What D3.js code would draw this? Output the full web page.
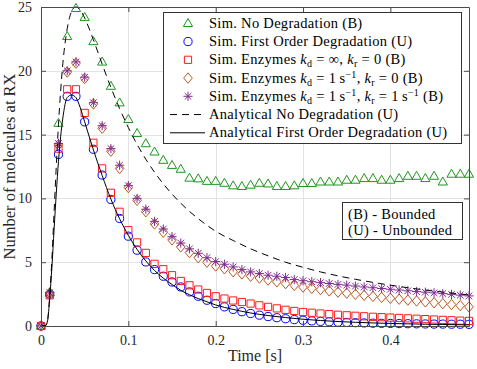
<!DOCTYPE html>
<html>
<head>
<meta charset="utf-8">
<script src="https://cdn.jsdelivr.net/npm/d3@7"></script>
<style>
  body { margin: 0; background: #fff; }
  svg { display: block; }
  svg text { font-family: "Liberation Serif", "Times New Roman", "DejaVu Serif", serif; }
</style>
</head>
<body>
<div id="chart"></div>
<script>
// sampled simulation times [s]
var simTime = [0, 0.01, 0.02, 0.03, 0.04, 0.05, 0.06, 0.07, 0.08, 0.09,
  0.10, 0.11, 0.12, 0.13, 0.14, 0.15, 0.16, 0.17, 0.18, 0.19,
  0.20, 0.21, 0.22, 0.23, 0.24, 0.25, 0.26, 0.27, 0.28, 0.29,
  0.30, 0.31, 0.32, 0.33, 0.34, 0.35, 0.36, 0.37, 0.38, 0.39,
  0.40, 0.41, 0.42, 0.43, 0.44, 0.45, 0.46, 0.47, 0.48, 0.49];

var simNoDeg = [0, 2.6, 15.9, 22.7, 24.9, 24.2, 22.3, 20.7, 18.8, 17.5,
  16.2, 15.1, 14.3, 13.65, 13.0, 12.6, 12.3, 11.6, 11.55, 11.35,
  11.35, 11.2, 11.0, 10.95, 11.05, 11.2, 11.15, 10.95, 10.95, 11.0,
  11.18, 11.18, 11.3, 11.3, 11.3, 11.44, 11.44, 11.57, 11.57, 11.44,
  11.44, 11.57, 11.75, 11.75, 11.57, 11.75, 11.3, 11.91, 11.91, 11.91];

var simFirstOrder = [0, 2.5, 13.45, 18.0, 18.0, 16.0, 13.85, 11.83, 9.92, 8.43,
  7.04, 5.94, 5.02, 4.42, 3.9, 3.45, 3.06, 2.67, 2.33, 2.02,
  1.76, 1.5, 1.3, 1.12, 0.98, 0.85, 0.74, 0.65, 0.57, 0.5,
  0.45, 0.4, 0.36, 0.33, 0.3, 0.28, 0.26, 0.24, 0.22, 0.21,
  0.2, 0.19, 0.18, 0.17, 0.16, 0.15, 0.15, 0.14, 0.14, 0.13];

var simEnzInf = [0, 2.4, 13.9, 18.55, 18.55, 16.7, 14.36, 12.35, 10.44, 8.95,
  7.51, 6.55, 5.73, 4.87, 4.45, 3.98, 3.53, 3.19, 2.86, 2.59,
  2.33, 2.15, 2.0, 1.88, 1.76, 1.62, 1.5, 1.38, 1.27, 1.18,
  1.1, 1.04, 0.98, 0.93, 0.88, 0.84, 0.8, 0.76, 0.72, 0.69,
  0.66, 0.63, 0.6, 0.57, 0.54, 0.51, 0.48, 0.45, 0.42, 0.4];

var simEnzKd1 = [0, 2.6, 14.2, 19.9, 20.6, 19.4, 17.4, 15.5, 13.7, 12.35,
  10.85, 9.85, 8.95, 8.0, 7.35, 6.75, 6.2, 5.75, 5.35, 5.0,
  4.7, 4.48, 4.25, 4.08, 3.9, 3.76, 3.6, 3.46, 3.32, 3.18,
  3.05, 2.95, 2.85, 2.75, 2.65, 2.57, 2.48, 2.4, 2.32, 2.24,
  2.17, 2.1, 2.03, 1.96, 1.89, 1.82, 1.75, 1.68, 1.6, 1.5];

var simEnzKd1Kr1 = [0, 2.6, 14.3, 20.0, 20.7, 19.5, 17.5, 15.7, 13.9, 12.6,
  11.0, 10.0, 9.15, 8.2, 7.6, 7.0, 6.5, 6.05, 5.7, 5.35,
  5.05, 4.84, 4.63, 4.42, 4.24, 4.11, 3.98, 3.9, 3.8, 3.64,
  3.55, 3.47, 3.4, 3.33, 3.26, 3.2, 3.13, 3.06, 3.0, 2.94,
  2.88, 2.82, 2.76, 2.7, 2.65, 2.6, 2.54, 2.48, 2.42, 2.36];

// analytical curves
var anaTime = [0, 0.005, 0.0075, 0.01, 0.0125, 0.015, 0.0175, 0.02,
  0.025, 0.03, 0.035, 0.04, 0.045, 0.05,
  0.06, 0.07, 0.08, 0.09, 0.10, 0.11, 0.12, 0.13, 0.14, 0.15, 0.16, 0.17, 0.18, 0.19, 0.20,
  0.22, 0.24, 0.26, 0.28, 0.30, 0.32, 0.34, 0.36, 0.38, 0.40, 0.42, 0.44, 0.46, 0.49];

var anaNoDeg = [0, 0.02, 0.46, 2.4, 5.28, 8.93, 12.55, 15.77,
  20.56, 23.3, 24.64, 25.0, 24.75, 24.14,
  22.43, 20.53, 18.7, 17.04, 15.55, 14.23, 13.07, 12.05, 11.14, 10.34, 9.62, 8.98, 8.41, 7.89, 7.42,
  6.7, 6.05, 5.5, 5.0, 4.6, 4.24, 3.93, 3.66, 3.42, 3.2, 3.0, 2.82, 2.66, 2.43];

var anaFirstOrder = [0, 0.02, 0.4, 2.2, 4.6, 7.6, 10.4, 12.9,
  16.3, 17.9, 18.1, 17.9, 17.1, 16.0,
  13.8, 11.8, 9.95, 8.4, 7.1, 6.0, 5.1, 4.35, 3.75, 3.25, 2.8, 2.45, 2.15, 1.9, 1.65,
  1.3, 1.02, 0.82, 0.66, 0.53, 0.43, 0.35, 0.29, 0.24, 0.2, 0.17, 0.14, 0.12, 0.09];

var xTicks = [0, 0.1, 0.2, 0.3, 0.4];
var yTicks = [0, 5, 10, 15, 20, 25];

// legend entries as text runs (i = italic, sub / sup = sub- and superscript)
var legendLabels = [
  [{t: "Sim. No Degradation (B)"}],
  [{t: "Sim. First Order Degradation (U)"}],
  [{t: "Sim. Enzymes "}, {t: "k", i: 1}, {t: "d", sub: 1}, {t: " = \u221E, "}, {t: "k", i: 1}, {t: "r", sub: 1}, {t: " = 0 (B)"}],
  [{t: "Sim. Enzymes "}, {t: "k", i: 1}, {t: "d", sub: 1}, {t: " = 1\u2009s"}, {t: "\u22121", sup: 1}, {t: ", "}, {t: "k", i: 1}, {t: "r", sub: 1}, {t: " = 0 (B)"}],
  [{t: "Sim. Enzymes "}, {t: "k", i: 1}, {t: "d", sub: 1}, {t: " = 1\u2009s"}, {t: "\u22121", sup: 1}, {t: ", "}, {t: "k", i: 1}, {t: "r", sub: 1}, {t: " = 1\u2009s"}, {t: "\u22121", sup: 1}, {t: " (B)"}],
  [{t: "Analytical No Degradation (U)"}],
  [{t: "Analytical First Order Degradation (U)"}]
];
var noteLabels = ["(B) - Bounded", "(U) - Unbounded"];

var ctx = {
  w: 477, h: 369,
  left: 41, right: 469, top: 7, bottom: 326,
  font: "'Liberation Serif', 'Times New Roman', 'DejaVu Serif', serif"
};

// marker outlines
var markers = {
  tri: "M0,-4.8L4.6,3.2L-4.6,3.2Z",
  circ: "M4.1,0A4.1,4.1 0 1,1 -4.1,0A4.1,4.1 0 1,1 4.1,0Z",
  sq: "M-3.6,-3.6H3.6V3.6H-3.6Z",
  dia: "M0,-5.2L4.3,0L0,5.2L-4.3,0Z",
  star: "M-4.6,0H4.6M0,-4.6V4.6M-3.3,-3.3L3.3,3.3M-3.3,3.3L3.3,-3.3"
};

var simSeries = [
  {values: simNoDeg, marker: "tri", color: "#1e961e"},
  {values: simFirstOrder, marker: "circ", color: "#0000ff"},
  {values: simEnzInf, marker: "sq", color: "#ff1a1a"},
  {values: simEnzKd1, marker: "dia", color: "#bd5a24"},
  {values: simEnzKd1Kr1, marker: "star", color: "#7e2f8e"}
];
var anaSeries = [
  {values: anaNoDeg, dash: "7,5"},
  {values: anaFirstOrder, dash: null}
];

var svg = d3.select("#chart").append("svg")
  .attr("width", ctx.w)
  .attr("height", ctx.h);

var x = d3.scaleLinear().domain([0, 0.49]).range([ctx.left, ctx.right]);
var y = d3.scaleLinear().domain([0, 25]).range([ctx.bottom, ctx.top]);

// grid
svg.append("g").selectAll("line").data(xTicks.slice(1)).enter().append("line")
  .attr("x1", function(d) { return Math.round(x(d)) + 0.5; })
  .attr("x2", function(d) { return Math.round(x(d)) + 0.5; })
  .attr("y1", ctx.top).attr("y2", ctx.bottom)
  .attr("stroke", "#e3e3e3");
svg.append("g").selectAll("line").data(yTicks.slice(1, -1)).enter().append("line")
  .attr("y1", function(d) { return Math.round(y(d)) + 0.5; })
  .attr("y2", function(d) { return Math.round(y(d)) + 0.5; })
  .attr("x1", ctx.left).attr("x2", ctx.right)
  .attr("stroke", "#e3e3e3");

// simulation markers
simSeries.forEach(function(s) {
  svg.append("g").selectAll("path").data(s.values).enter().append("path")
    .attr("transform", function(d, i) { return "translate(" + x(simTime[i]) + "," + y(d) + ")"; })
    .attr("d", markers[s.marker])
    .attr("fill", "none")
    .attr("stroke", s.color)
    .attr("stroke-width", 1);
});

// analytical curves
var line = d3.line()
  .x(function(d, i) { return x(anaTime[i]); })
  .y(function(d) { return y(d); })
  .curve(d3.curveMonotoneX);
anaSeries.forEach(function(s) {
  svg.append("path")
    .attr("d", line(s.values))
    .attr("fill", "none")
    .attr("stroke", "#000")
    .attr("stroke-width", 1)
    .attr("stroke-dasharray", s.dash);
});

// axes box with inner ticks on all sides
var axisColor = "#4a4a4a";
var xb = d3.axisBottom(x).tickValues(xTicks).tickSizeInner(-5).tickSizeOuter(0)
  .tickFormat(function(d) { return d === 0 ? "0" : d3.format(".1f")(d); }).tickPadding(9);
var xt = d3.axisTop(x).tickValues(xTicks).tickSizeInner(-5).tickSizeOuter(0).tickFormat("");
var yl = d3.axisLeft(y).tickValues(yTicks).tickSizeInner(-5).tickSizeOuter(0).tickPadding(9);
var yr = d3.axisRight(y).tickValues(yTicks).tickSizeInner(-5).tickSizeOuter(0).tickFormat("");

function styleAxis(g) {
  g.attr("font-family", ctx.font);
  g.selectAll("path.domain").attr("stroke", axisColor);
  g.selectAll(".tick line").attr("stroke", axisColor);
  g.selectAll("text").attr("fill", "#262626")
    .style("font-family", ctx.font).style("font-size", "14px");
}
svg.append("g").attr("transform", "translate(0," + ctx.bottom + ")").call(xb).call(styleAxis);
svg.append("g").attr("transform", "translate(0," + ctx.top + ")").call(xt).call(styleAxis);
svg.append("g").attr("transform", "translate(" + ctx.left + ",0)").call(yl).call(styleAxis);
svg.append("g").attr("transform", "translate(" + ctx.right + ",0)").call(yr).call(styleAxis);

// axis labels
svg.append("text")
  .attr("x", (ctx.left + ctx.right) / 2).attr("y", 361)
  .attr("text-anchor", "middle")
  .style("font-family", ctx.font).style("font-size", "16px").attr("fill", "#262626")
  .text("Time [s]");
svg.append("text")
  .attr("transform", "translate(15," + (ctx.top + ctx.bottom) / 2 + ") rotate(-90)")
  .attr("text-anchor", "middle")
  .style("font-family", ctx.font).style("font-size", "16.5px").attr("fill", "#262626")
  .text("Number of molecules at RX");

// main legend
var leg = svg.append("g");
leg.append("rect")
  .attr("x", 163.5).attr("y", 12.5).attr("width", 298).attr("height", 131)
  .attr("fill", "#fff").attr("stroke", "#333").attr("stroke-width", 1);

function addRuns(textSel, runs) {
  var shift = 0;
  runs.forEach(function(r) {
    var target = r.sub ? 3 : (r.sup ? -5 : 0);
    var ts = textSel.append("tspan").attr("dy", target - shift).text(r.t);
    if (r.i) ts.style("font-style", "italic");
    if (r.sub || r.sup) ts.style("font-size", "10px");
    shift = target;
  });
}

legendLabels.forEach(function(runs, i) {
  var cy = 23.3 + i * 18.25;
  if (i < simSeries.length) {
    var s = simSeries[i];
    leg.append("path")
      .attr("transform", "translate(188," + cy + ")")
      .attr("d", markers[s.marker])
      .attr("fill", "none").attr("stroke", s.color).attr("stroke-width", 1);
  } else {
    var a = anaSeries[i - simSeries.length];
    leg.append("line")
      .attr("x1", 170).attr("x2", 205).attr("y1", cy).attr("y2", cy)
      .attr("stroke", "#000").attr("stroke-width", 1)
      .attr("stroke-dasharray", a.dash);
  }
  var t = leg.append("text")
    .attr("x", 209).attr("y", cy + 4.5)
    .style("font-family", ctx.font)
    .style("font-size", "14.5px").style("letter-spacing", "0.3px")
    .attr("fill", "#000");
  addRuns(t, runs);
});

// bounded / unbounded note
var note = svg.append("g");
note.append("rect")
  .attr("x", 342.5).attr("y", 202.5).attr("width", 120).attr("height", 37)
  .attr("fill", "#fff").attr("stroke", "#333").attr("stroke-width", 1);
noteLabels.forEach(function(d, i) {
  note.append("text")
    .attr("x", 348).attr("y", 218.5 + i * 16.7)
    .style("font-family", ctx.font)
    .style("font-size", "14.5px").style("letter-spacing", "0.3px")
    .attr("fill", "#000")
    .text(d);
});
</script>
</body>
</html>
